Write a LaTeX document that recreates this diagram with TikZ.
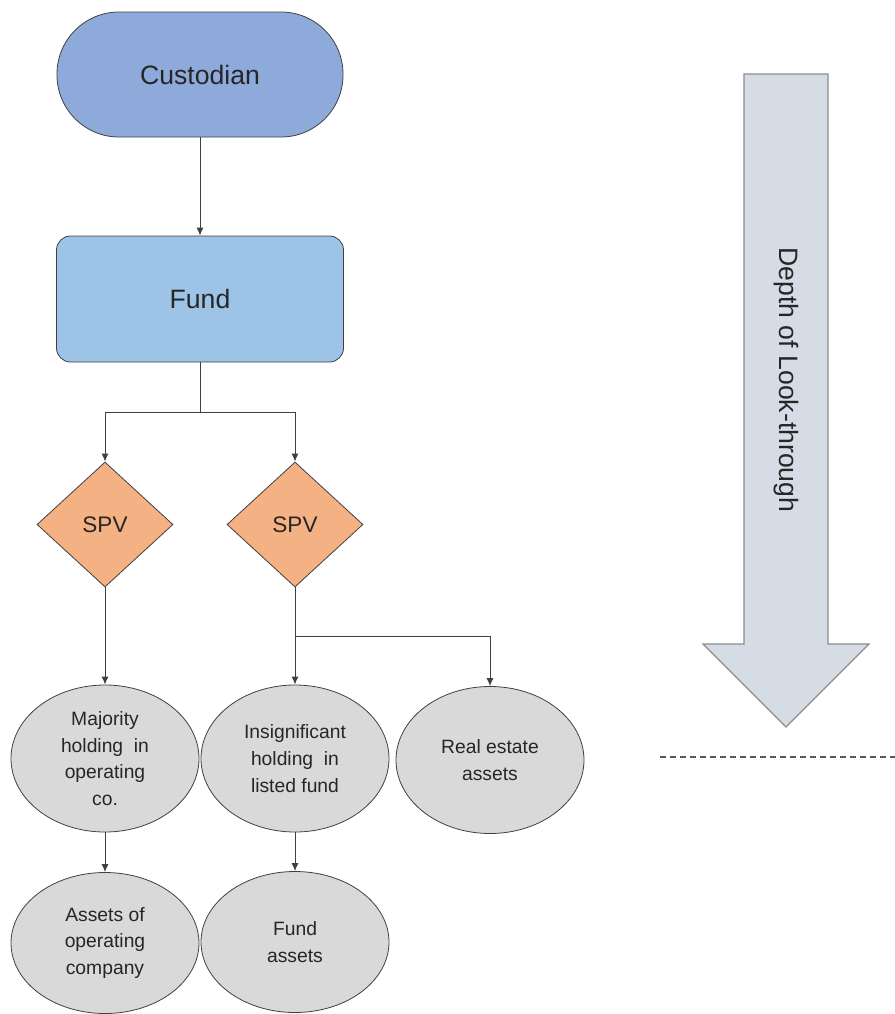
\documentclass[tikz,border=0pt]{standalone}
\usepackage{fontspec}
\setmainfont{Liberation Sans}
\usetikzlibrary{shapes.geometric,arrows.meta}

\definecolor{custblue}{HTML}{8EAADB}
\definecolor{fundblue}{HTML}{9DC3E6}
\definecolor{spvorange}{HTML}{F4B183}
\definecolor{holdgray}{HTML}{D9D9D9}
\definecolor{depthgray}{HTML}{D6DCE5}

\begin{document}
\begin{tikzpicture}[x=0.5pt, y=-0.5pt,
	box/.style      = {draw=black!75, thin, align=center, inner sep=0pt, text=black!85},
	stadium/.style  = {box, rectangle, rounded corners=31pt, fill=custblue, minimum width=143pt, minimum height=62.5pt, font=\fontsize{13.3}{16}\selectfont},
	fundbox/.style  = {box, rectangle, rounded corners=7pt, fill=fundblue, minimum width=143.5pt, minimum height=63pt, font=\fontsize{13.3}{16}\selectfont},
	spv/.style      = {box, diamond, fill=spvorange, minimum width=68pt, minimum height=62.5pt, font=\fontsize{11.25}{13}\selectfont},
	holding/.style  = {box, ellipse, fill=holdgray, minimum width=94pt, minimum height=73.5pt, font=\fontsize{9.65}{13.3}\selectfont},
	lowhold/.style  = {holding, minimum height=70.5pt},
	feed/.style     = {draw=black!75, line width=0.5pt},
	link/.style     = {feed, -{Latex[length=4pt,width=3.5pt]}},
	lookarrow/.style= {draw=black!45, line width=0.6pt, fill=depthgray},
	cutline/.style  = {draw=black!65, line width=1pt, dash pattern=on 3pt off 2pt}]

	\useasboundingbox (0,0) rectangle (895,1014);

	% top of the chain
	\node[stadium] (cust) at (200,74.5) {Custodian};
	\node[fundbox] (fund) at (200,299) {Fund};

	% special purpose vehicles
	\node[spv] (spv1) at (105,524.5) {SPV};
	\node[spv] (spv2) at (295,524.5) {SPV};

	% holdings below the vehicles
	\node[holding] (maj)   at (105,758.5) {Majority\\holding\ \ in\\operating\\co.};
	\node[holding] (insig) at (295,758.5) {Insignificant\\holding\ \ in\\listed fund};
	\node[holding] (real)  at (490,760)   {Real estate\\assets};

	% last level
	\node[lowhold] (aoc)     at (105,943) {Assets of\\operating\\company};
	\node[lowhold] (fassets) at (295,942) {Fund\\assets};

	% connectors
	\coordinate (fsplit) at (200,412);
	\coordinate (ssplit) at (295,636);
	\draw[link] (cust) -- (fund);
	\draw[feed] (fund) -- (fsplit);
	\foreach \n in {1,2}
	\draw[link] (fsplit) -| (spv\n);
	\draw[link] (spv1) -- (maj);
	\draw[feed] (spv2) -- (ssplit);
	\draw[link] (ssplit) -- (insig);
	\draw[link] (ssplit) -| (real);
	\draw[link] (maj) -- (aoc);
	\draw[link] (insig) -- (fassets);

	% depth arrow on the right
	\path[lookarrow] (744,74) -- (828,74) -- (828,644) -- (869,644) -- (786,727) -- (703,644) -- (744,644) -- cycle;
	\node[rotate=-90, font=\fontsize{13.3}{16}\selectfont, text=black!85] (depth) at (786,380) {Depth of Look-through};

	\coordinate (cutL) at (660,757);
	\coordinate (cutR) at (895,757);
	\draw[cutline] (cutL) -- (cutR);
\end{tikzpicture}
\end{document}
